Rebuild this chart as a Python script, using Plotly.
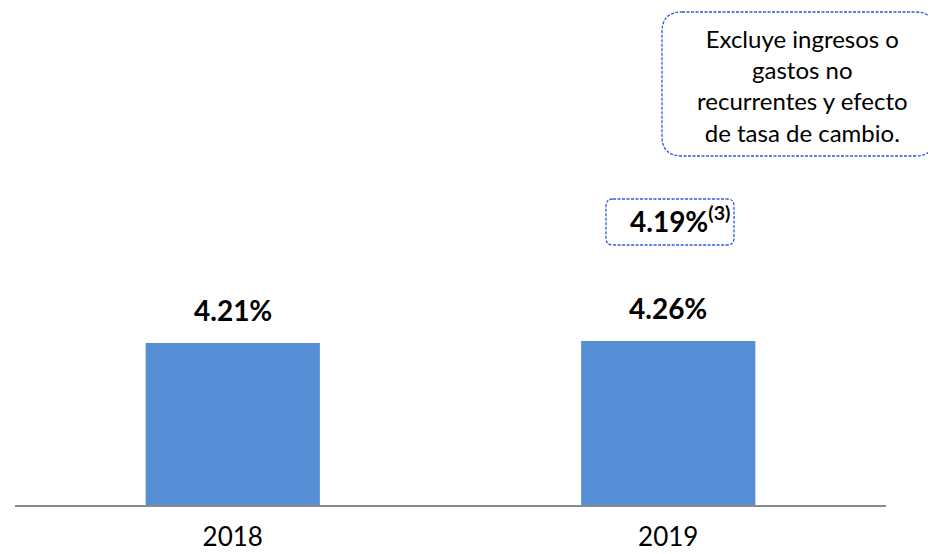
import plotly.graph_objects as go

categories = ["2018", "2019"]
values = [4.21, 4.26]
value_labels = ["4.21%", "4.26%"]
adjusted_value = 4.19
adjusted_label = "4.19%"
note_text = "Excluye ingresos o<br>gastos no<br>recurrentes y efecto<br>de tasa de cambio."

W, H = 936, 554
OFF = 8  # page body margin
ML = 15 - OFF
MR = W - (886 - OFF)
MB = H - (505 - OFF)
MT = 5
PX_PER_UNIT = 38.48
Y_MAX = (H - MT - MB) / PX_PER_UNIT
FONT = "Lato, 'Open Sans', sans-serif"
BAR_COLOR = "#558ED5"
BOX_COLOR = "#2F5BD8"

def px2paper(px, py):
    px -= OFF
    py -= OFF
    return (px - ML) / (W - ML - MR), (H - MB - py) / (H - MT - MB)

def rounded_rect(x0p, y0p, x1p, y1p, r):
    def P(x, y):
        a, b = px2paper(x, y)
        return f"{a:.5f},{b:.5f}"
    return (f"M {P(x0p + r, y0p)} L {P(x1p - r, y0p)} Q {P(x1p, y0p)} {P(x1p, y0p + r)} "
            f"L {P(x1p, y1p - r)} Q {P(x1p, y1p)} {P(x1p - r, y1p)} "
            f"L {P(x0p + r, y1p)} Q {P(x0p, y1p)} {P(x0p, y1p - r)} "
            f"L {P(x0p, y0p + r)} Q {P(x0p, y0p)} {P(x0p + r, y0p)} Z")

fig = go.Figure()
fig.add_trace(go.Bar(
    x=categories, y=values, marker=dict(color=BAR_COLOR, line=dict(width=0)),
    width=0.4, hoverinfo="skip", showlegend=False,
))

for i, (v, lab) in enumerate(zip(values, value_labels)):
    fig.add_annotation(x=i, y=v, xref="x", yref="y", text=f"<b>{lab}</b>", showarrow=False,
                       yanchor="bottom", yshift=14,
                       font=dict(family=FONT, size=28, color="black"))

# adjusted value box above 2019
fig.add_annotation(x=1, y=adjusted_value + 3.22, xref="x", yref="y",
                   text=f"<b>{adjusted_label}<sup>(3)</sup></b>",
                   showarrow=False, yanchor="middle", xshift=12,
                   font=dict(family=FONT, size=28, color="black"))

fig.add_shape(type="path", xref="paper", yref="paper",
              path=rounded_rect(606, 199, 734, 245, 7),
              line=dict(color=BOX_COLOR, width=1.3, dash="3px,1.5px"))

fig.add_shape(type="path", xref="paper", yref="paper",
              path=rounded_rect(662, 12, 935, 156, 20),
              line=dict(color=BOX_COLOR, width=1.3, dash="3px,1.5px"))

bx, by = px2paper(802, 86)
fig.add_annotation(xref="paper", yref="paper", x=bx, y=by, text=note_text,
                   showarrow=False, align="center", xanchor="center", yanchor="middle",
                   font=dict(family=FONT, size=24, color="black"))

fig.update_layout(
    width=W, height=H, margin=dict(l=ML, r=MR, t=MT, b=MB),
    paper_bgcolor="white", plot_bgcolor="white", template="none",
    xaxis=dict(type="category", range=[-0.5, 1.5], showgrid=False, zeroline=False, showline=True,
               linecolor="#898989", linewidth=2, ticks="", automargin=False,
               tickfont=dict(family=FONT, size=26, color="black"), ticklabelstandoff=8),
    yaxis=dict(range=[0, Y_MAX], visible=False, showgrid=False, zeroline=False, automargin=False),
)

fig.write_html("out.html")
